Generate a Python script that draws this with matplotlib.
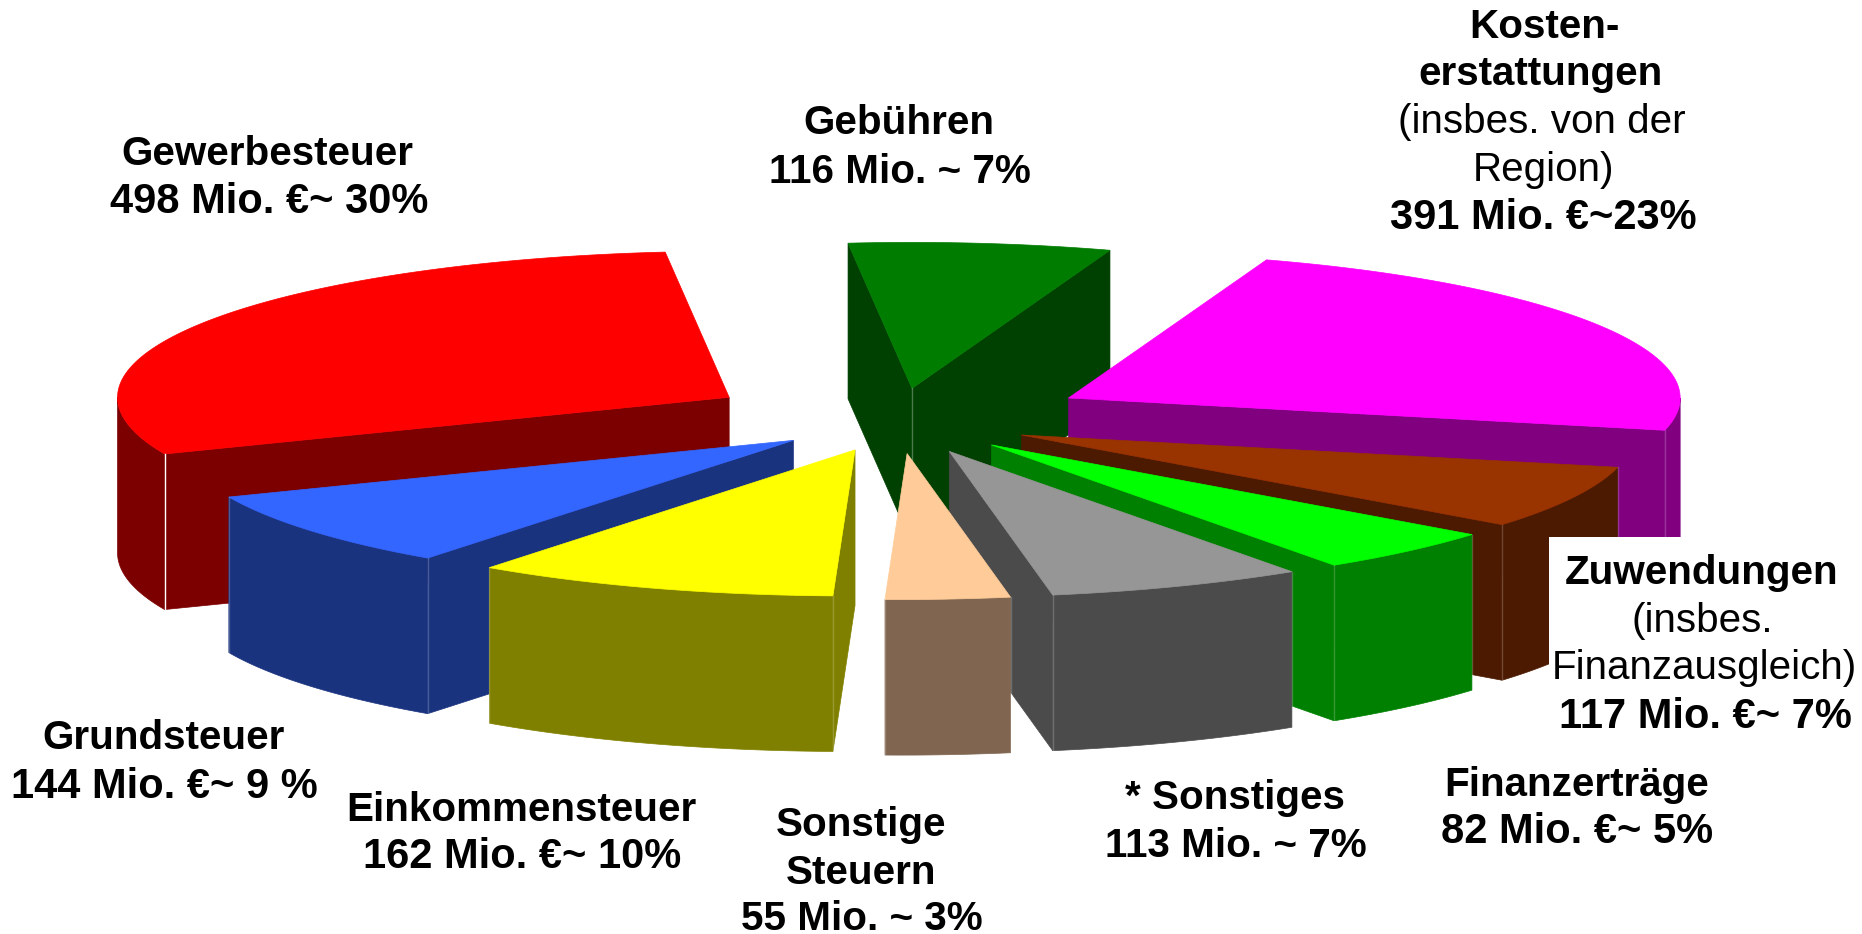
import numpy as np
import matplotlib
matplotlib.use("Agg")
import matplotlib.pyplot as plt
from matplotlib.patches import Polygon, Rectangle

plt.rcParams['font.family'] = ['Liberation Sans', 'DejaVu Sans']

# clockwise from the start angle
names = ["Gebühren", "Kostenerstattungen", "Zuwendungen", "Finanzerträge", "Sonstiges",
         "Sonstige Steuern", "Einkommensteuer", "Grundsteuer", "Gewerbesteuer"]
values = [116, 391, 117, 82, 113, 55, 162, 144, 498]
explode = [0.224, 0.322, 0.226, 0.226, 0.226, 0.224, 0.21, 0.215, 0.318]
top_colors = ["#007C00", "#FF00FF", "#993300", "#00FF00", "#969696",
              "#FFCC99", "#FFFF00", "#3366FF", "#FF0000"]
side_colors = ["#004000", "#800080", "#4C1A00", "#008000", "#4B4B4B",
               "#806650", "#808000", "#1A337F", "#7C0000"]

# text, centre x, baseline y, bold
labels = [
    ("Gewerbesteuer", 267, 165, True),
    ("498 Mio. €~ 30%", 269, 213, True),
    ("Gebühren", 899, 134, True),
    ("116 Mio. ~ 7%", 900, 183, True),
    ("Kosten-", 1544, 38, True),
    ("erstattungen", 1541, 85, True),
    ("(insbes. von der", 1542, 133, False),
    ("Region)", 1543, 181, False),
    ("391 Mio. €~23%", 1543, 229, True),
    ("Zuwendungen", 1702, 584, True),
    ("(insbes.", 1702, 632, False),
    ("Finanzausgleich)", 1704, 679, False),
    ("117 Mio. €~ 7%", 1705, 728, True),
    ("Finanzerträge", 1577, 796, True),
    ("82 Mio. €~ 5%", 1577, 843, True),
    ("* Sonstiges", 1235, 809, True),
    ("113 Mio. ~ 7%", 1236, 857, True),
    ("Sonstige", 861, 836, True),
    ("Steuern", 861, 884, True),
    ("55 Mio. ~ 3%", 862, 930, True),
    ("Einkommensteuer", 521, 821, True),
    ("162 Mio. €~ 10%", 522, 868, True),
    ("Grundsteuer", 164, 749, True),
    ("144 Mio. €~ 9 %", 164, 798, True),
]

START = -6.0
CX, CY = 896.6, 420.9
RX, RY = 611.6, 146.0
DEPTH = 155.6
FRONT_SKEW = 6.0


def rim(cx, cy, deg):
    a = np.radians(deg)
    # front of the rim sits a bit to the left of a true ellipse
    skew = FRONT_SKEW * np.minimum(np.cos(a), 0) ** 2
    return np.column_stack([cx + RX * np.sin(a) - skew, cy - RY * np.cos(a)])


def draw_slice(ax, a, b, ex, top, side, z):
    mid = np.radians((a + b) / 2)
    cx = CX + ex * RX * np.sin(mid)
    cy = CY - ex * RY * np.cos(mid)
    apex = np.array([[cx, cy]])
    down = np.array([0, DEPTH])

    # radial faces, only those turned towards the viewer
    shown = 0
    for edge, visible in ((a, np.sin(np.radians(a)) < 0), (b, np.sin(np.radians(b)) > 0)):
        if visible:
            p = rim(cx, cy, edge)
            face = np.vstack([apex, p, p + down, apex + down])
            ax.add_patch(Polygon(face, fc=side, ec=side, lw=0.5, zorder=z))
            shown += 1

    # outer wall, front half of the rim
    lo, hi = max(a, 90), min(b, 270)
    if lo < hi:
        arc = rim(cx, cy, np.linspace(lo, hi, 60))
        wall = np.vstack([arc, arc[::-1] + down])
        ax.add_patch(Polygon(wall, fc=side, ec=side, lw=0.5, zorder=z))

    arc = rim(cx, cy, np.linspace(a, b, 120))
    ax.add_patch(Polygon(np.vstack([apex, arc]), fc=top, ec=top, lw=0.5, zorder=z))

    # light seams on the corners
    for edge in (a, b):
        if 90 < edge < 270:
            p = rim(cx, cy, edge)[0]
            ax.plot([p[0], p[0]], [p[1], p[1] + DEPTH], color="white", lw=1,
                    alpha=1 if side == "#7C0000" else 0.2, zorder=z)
    if shown == 2:
        ax.plot([cx, cx], [cy, cy + DEPTH], color="white", lw=1, alpha=0.3, zorder=z)


fig = plt.figure(figsize=(18.62, 9.34), dpi=100)
ax = fig.add_axes([0, 0, 1, 1])
ax.set_xlim(0, 1862)
ax.set_ylim(934, 0)
ax.axis("off")

angles = START + np.cumsum([0] + values) * 360.0 / sum(values)
mids = np.radians((angles[:-1] + angles[1:]) / 2)
apex_y = CY - np.array(explode) * RY * np.cos(mids)

# back slices first
for z, i in enumerate(np.argsort(apex_y, kind="stable")):
    draw_slice(ax, angles[i], angles[i + 1], explode[i], top_colors[i], side_colors[i], z + 1)

ax.add_patch(Rectangle((1549, 537), 313, 230, fc="white", ec="none", zorder=20))

for text, x, y, bold in labels:
    # the euro sign is wider in the original, those lines run longer
    size = 30.0 if "€" in text else 29.1
    ax.text(x, y, text, ha="center", va="baseline", fontsize=size, color="black",
            fontweight="bold" if bold else "normal", zorder=21)

fig.savefig("out.png", dpi=100)
